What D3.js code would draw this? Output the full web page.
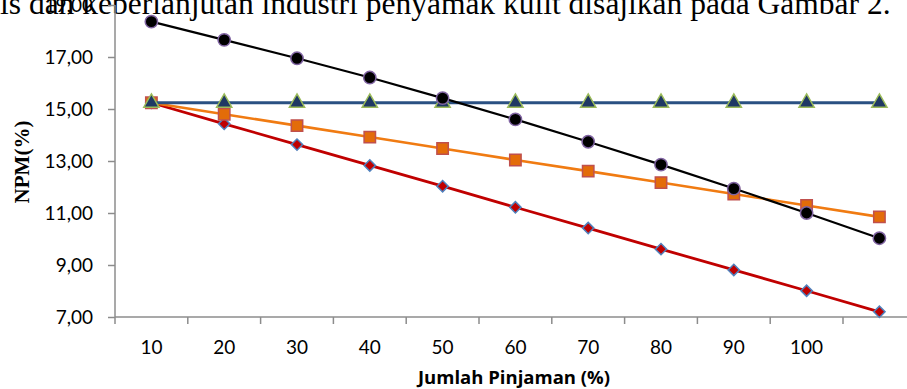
<!DOCTYPE html>
<html>
<head>
<meta charset="utf-8">
<script src="https://cdn.jsdelivr.net/npm/d3@7"></script>
<style>
  html, body { margin: 0; padding: 0; background: #fff; overflow: hidden; }
  svg { display: block; }
</style>
</head>
<body>
<svg id="chart" width="907" height="389"></svg>
<script>
// Loan share categories (x axis); the last slot carries no label
const categories = ["10", "20", "30", "40", "50", "60", "70", "80", "90", "100", ""];

// NPM (%) for each scenario
const seriesRed    = [15.24, 14.43, 13.63, 12.83, 12.03, 11.22, 10.42, 9.61, 8.81, 8.01, 7.20];
const seriesOrange = [15.24, 14.80, 14.36, 13.92, 13.48, 13.04, 12.61, 12.17, 11.73, 11.29, 10.85];
const seriesBlue   = [15.24, 15.24, 15.24, 15.24, 15.24, 15.24, 15.24, 15.24, 15.24, 15.24, 15.24];
const seriesBlack  = [18.36, 17.66, 16.95, 16.21, 15.42, 14.60, 13.74, 12.86, 11.94, 11.00, 10.03];

const yTicks = [7, 9, 11, 13, 15, 17, 19];

const svg = d3.select("#chart");

const plotLeft = 115, axisY = 317, plotTop = 5;
const step = 72.8;

const x = d3.scaleBand().domain(d3.range(categories.length))
  .range([plotLeft, plotLeft + step * categories.length]).paddingInner(0).paddingOuter(0);
const y = d3.scaleLinear().domain([7, 19]).range([axisY, plotTop]);

const fmt = v => d3.format(".2f")(v).replace(".", ",");

// Paragraph line running above the figure
svg.append("text")
  .attr("x", 0).attr("y", 14)
  .attr("font-family", "'Liberation Serif', 'Times New Roman', serif")
  .attr("font-size", 31.5)
  .attr("fill", "#000")
  .text("is dan keberlanjutan industri penyamak kulit disajikan pada Gambar 2.");

// Y axis
const yAxis = svg.append("g")
  .attr("transform", `translate(${plotLeft},0)`)
  .call(d3.axisLeft(y).tickValues(yTicks).tickFormat(fmt).tickSize(7).tickPadding(15));
yAxis.select(".domain").attr("stroke", "#8c8c8c").attr("stroke-width", 1.5)
  .attr("d", `M0,${plotTop}V${axisY}`);
yAxis.selectAll(".tick line").attr("stroke", "#8c8c8c").attr("stroke-width", 1.5);
yAxis.selectAll(".tick text")
  .attr("font-family", "Lato, 'Open Sans', sans-serif")
  .attr("font-size", 19).attr("fill", "#000");

// X axis with tick marks on category boundaries
const xAxis = svg.append("g").attr("transform", `translate(0,${axisY})`);
xAxis.append("line")
  .attr("x1", plotLeft).attr("x2", 907).attr("y1", 0).attr("y2", 0)
  .attr("stroke", "#8c8c8c").attr("stroke-width", 1.5);
xAxis.selectAll("line.tick")
  .data(d3.range(categories.length))
  .join("line").attr("class", "tick")
  .attr("x1", i => x(i)).attr("x2", i => x(i))
  .attr("y1", 0).attr("y2", 7)
  .attr("stroke", "#8c8c8c").attr("stroke-width", 1.5);
xAxis.selectAll("text.lbl")
  .data(categories)
  .join("text").attr("class", "lbl")
  .attr("x", (d, i) => x(i) + x.bandwidth() / 2)
  .attr("y", 37)
  .attr("text-anchor", "middle")
  .attr("font-family", "Lato, 'Open Sans', sans-serif")
  .attr("font-size", 19).attr("fill", "#000")
  .text(d => d);

// Axis titles
svg.append("text")
  .attr("x", 514).attr("y", 384)
  .attr("text-anchor", "middle")
  .attr("font-family", "'Open Sans', Lato, sans-serif")
  .attr("font-weight", "bold")
  .attr("font-size", 18.5).attr("fill", "#000")
  .text("Jumlah Pinjaman (%)");

svg.append("text")
  .attr("transform", "translate(29,162) rotate(-90)")
  .attr("text-anchor", "middle")
  .attr("font-family", "'Liberation Serif', 'Times New Roman', serif")
  .attr("font-weight", "bold")
  .attr("font-size", 21).attr("fill", "#000")
  .text("NPM(%)");

// Series, drawn back to front
const cx = i => x(i) + x.bandwidth() / 2;
const line = d3.line().x((d, i) => cx(i)).y(d => y(d));

const series = [
  { values: seriesRed,    line: "#c00000", width: 2.8, symbol: d3.symbolSquare,   size: 64,  rotate: 45, fill: "#c00000", stroke: "#4f81bd" },
  { values: seriesOrange, line: "#f07b12", width: 2.6, symbol: d3.symbolSquare,   size: 130, rotate: 0,  fill: "#e36c09", stroke: "#c0504d" },
  { values: seriesBlue,   line: "#2a5082", width: 2.8, symbol: d3.symbolTriangle, size: 100, rotate: 0,  fill: "#1f3864", stroke: "#9bbb59" },
  { values: seriesBlack,  line: "#000000", width: 2.2, symbol: d3.symbolCircle,   size: 120, rotate: 0,  fill: "#000000", stroke: "#8064a2" }
];

series.forEach(s => {
  const g = svg.append("g");
  g.append("path")
    .datum(s.values)
    .attr("fill", "none")
    .attr("stroke", s.line)
    .attr("stroke-width", s.width)
    .attr("d", line);
  g.selectAll("path.mark")
    .data(s.values)
    .join("path").attr("class", "mark")
    .attr("transform", (d, i) => `translate(${cx(i)},${y(d)}) rotate(${s.rotate})`)
    .attr("d", d3.symbol().type(s.symbol).size(s.size))
    .attr("fill", s.fill)
    .attr("stroke", s.stroke)
    .attr("stroke-width", 1.5);
});
</script>
</body>
</html>
